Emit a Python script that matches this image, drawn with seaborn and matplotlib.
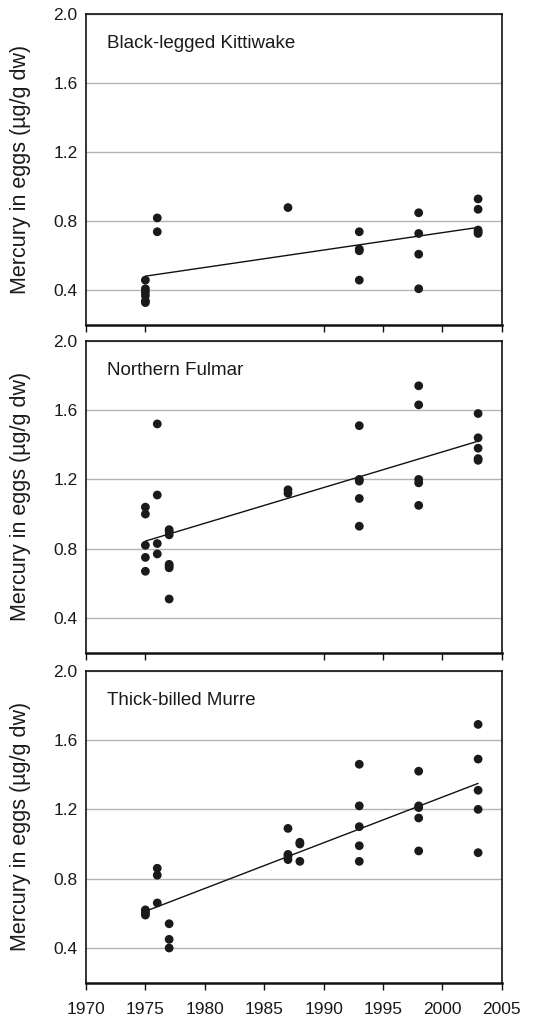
import matplotlib
matplotlib.use("Agg")
import matplotlib.pyplot as plt
import seaborn as sns
import pandas as pd

# Du lieu doc tu hinh goc
kittiwake_year = [1975, 1975, 1975, 1975, 1975, 1975, 1976, 1976, 1987,
                  1993, 1993, 1993, 1993, 1998, 1998, 1998, 1998,
                  2003, 2003, 2003, 2003, 2003]
kittiwake_hg = [0.46, 0.41, 0.39, 0.37, 0.34, 0.33, 0.82, 0.74, 0.88,
                0.74, 0.64, 0.63, 0.46, 0.85, 0.73, 0.61, 0.41,
                0.93, 0.87, 0.75, 0.74, 0.73]

fulmar_year = [1975, 1975, 1975, 1975, 1975, 1976, 1976, 1976, 1976,
               1977, 1977, 1977, 1977, 1977, 1977, 1977, 1987, 1987,
               1993, 1993, 1993, 1993, 1993, 1998, 1998, 1998, 1998, 1998,
               2003, 2003, 2003, 2003, 2003]
fulmar_hg = [1.04, 1.00, 0.82, 0.75, 0.67, 1.52, 1.11, 0.83, 0.77,
             0.91, 0.90, 0.88, 0.71, 0.70, 0.69, 0.51, 1.14, 1.12,
             1.51, 1.20, 1.19, 1.09, 0.93, 1.74, 1.63, 1.20, 1.18, 1.05,
             1.58, 1.44, 1.38, 1.32, 1.31]

murre_year = [1975, 1975, 1975, 1975, 1976, 1976, 1976, 1977, 1977, 1977,
              1987, 1987, 1987, 1987, 1988, 1988, 1988,
              1993, 1993, 1993, 1993, 1993, 1998, 1998, 1998, 1998, 1998,
              2003, 2003, 2003, 2003, 2003]
murre_hg = [0.62, 0.61, 0.60, 0.59, 0.86, 0.82, 0.66, 0.54, 0.45, 0.40,
            1.09, 0.94, 0.93, 0.91, 1.01, 1.00, 0.90,
            1.46, 1.22, 1.10, 0.99, 0.90, 1.42, 1.22, 1.21, 1.15, 0.96,
            1.69, 1.49, 1.31, 1.20, 0.95]

species = ["Black-legged Kittiwake", "Northern Fulmar", "Thick-billed Murre"]
x_ticks = [1970, 1975, 1980, 1985, 1990, 1995, 2000, 2005]
x_ticks_top = [1970, 1975, 1990, 1995, 2000, 2005]  # o tren khong co vach 1980, 1985
y_ticks = [0.4, 0.8, 1.2, 1.6, 2.0]

series = [(kittiwake_year, kittiwake_hg), (fulmar_year, fulmar_hg), (murre_year, murre_hg)]

sns.set_theme(style="white")
plt.rcParams['font.family'] = ['Liberation Sans', 'DejaVu Sans']

fig = plt.figure(figsize=(5.59, 10.18), dpi=100)
# vi tri cac o (left, bottom, width, height)
boxes = [(0.1538, 0.6807, 0.744, 0.3055),
         (0.1538, 0.3588, 0.744, 0.3065),
         (0.1538, 0.0347, 0.744, 0.3065)]

for i, (name, (yr, hg), box) in enumerate(zip(species, series, boxes)):
    ax = fig.add_axes(box)
    df = pd.DataFrame({'year': yr, 'hg': hg})
    sns.regplot(data=df, x='year', y='hg', scatter=False, ci=None, truncate=True,
                line_kws={'color': '#111111', 'linewidth': 1.0}, ax=ax)
    sns.scatterplot(data=df, x='year', y='hg', s=40, color='#1a1a1a',
                    edgecolor='none', ax=ax, zorder=3)

    ax.set_xlim(1970, 2005)
    ax.set_ylim(0.2, 2.0)
    ax.set_yticks(y_ticks)
    ax.set_yticklabels([f'{v:.1f}' for v in y_ticks], fontsize=12.5, color='#1a1a1a')
    if i == 2:
        ax.set_xticks(x_ticks)
        ax.set_xticklabels([str(v) for v in x_ticks], fontsize=12.5, color='#1a1a1a')
    else:
        ax.set_xticks(x_ticks_top)
        ax.set_xticklabels([])
    ax.tick_params(axis='y', length=0, pad=6)
    ax.tick_params(axis='x', direction='out', length=5, width=1.0, color='#111111',
                   bottom=True, pad=9)

    ax.grid(axis='y', color='#b4b4b4', linewidth=1.0)
    ax.set_axisbelow(True)
    for side in ['left', 'right', 'top']:
        ax.spines[side].set_color('#111111')
        ax.spines[side].set_linewidth(1.2)
    ax.spines['bottom'].set_color('#111111')
    ax.spines['bottom'].set_linewidth(1.8)

    ax.set_xlabel('')
    ax.set_ylabel('Mercury in eggs (µg/g dw)', fontsize=15.5, color='#1a1a1a', labelpad=16)
    ax.text(0.05, 0.905, name, transform=ax.transAxes, fontsize=13.5,
            color='#1a1a1a', ha='left', va='center')

plt.savefig('out.png', dpi=100)
